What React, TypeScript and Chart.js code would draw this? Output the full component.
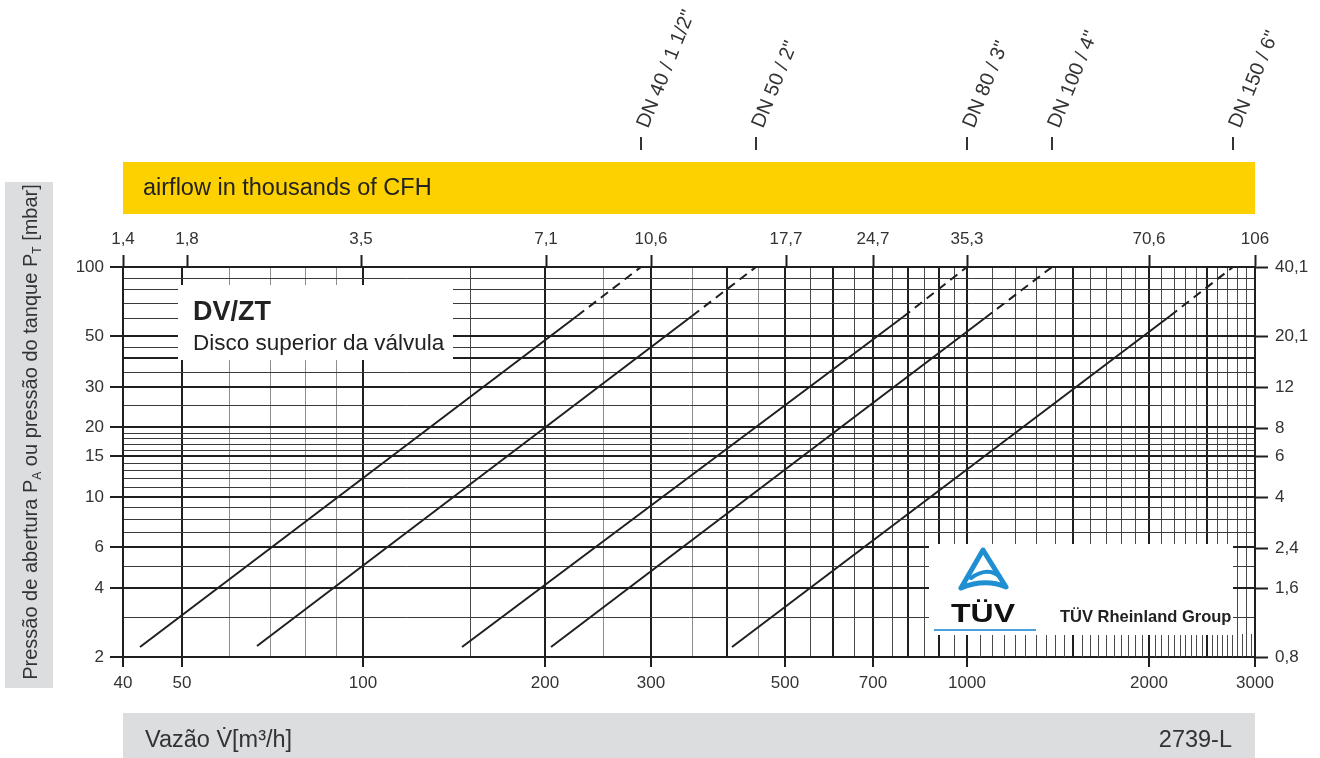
import React, { useEffect, useRef } from 'react';
import { Chart, registerables } from 'chart.js';

Chart.register(...registerables);

const FONT = '"Liberation Sans", Arial, Helvetica, sans-serif';
const TEXT = '#333333';
const DARK = '#1f1f1f';

// axis ranges (m³/h and mbar)
const flowRange = [40, 3000];
const pressureRange = [2, 100];
// unit conversions for the secondary axes
const KCFH_PER_M3H = 0.0353147;
const INWC_PER_MBAR = 0.401463;

// tick labels
const bottomTickValues = [40, 50, 100, 200, 300, 500, 700, 1000, 2000, 3000];
const bottomTickLabels = ['40', '50', '100', '200', '300', '500', '700', '1000', '2000', '3000'];
const leftTickValues = [2, 4, 6, 10, 15, 20, 30, 50, 100];
const leftTickLabels = ['2', '4', '6', '10', '15', '20', '30', '50', '100'];
const topTickValues = [1.4, 1.8, 3.5, 7.1, 10.6, 17.7, 24.7, 35.3, 70.6, 106];
const topTickLabels = ['1,4', '1,8', '3,5', '7,1', '10,6', '17,7', '24,7', '35,3', '70,6', '106'];
const rightTickValues = [40.1, 20.1, 12, 8, 6, 4, 2.4, 1.6, 0.8];
const rightTickLabels = ['40,1', '20,1', '12', '8', '6', '4', '2,4', '1,6', '0,8'];

// grid lines
const gridFlows = [40, 50, 60, 70, 80, 90, 100, 150, 200, 250, 300, 350, 400, 450, 500, 550, 600, 650, 700, 750, 800, 850, 900, 950,
  1000, 1100, 1200, 1300, 1400, 1500, 1600, 1700, 1800, 1900, 2000, 2100, 2200, 2300, 2400, 2500, 2600, 2700, 2800, 2900, 3000];
const majorFlows = [40, 50, 100, 200, 300, 400, 500, 600, 700, 800, 900, 1000, 1500, 2000, 2500, 3000];
const lightFlows = [60, 70, 80, 90, 250, 350, 450];
const stripFlows = [1050, 1150, 1250, 1350, 1450, 1550, 1650, 1750, 1850, 1950, 2050, 2150, 2250, 2350, 2450, 2550, 2650, 2750, 2850, 2950];
const gridPressures = [2, 3, 4, 5, 6, 7, 8, 9, 10, 11, 12, 13, 14, 15, 16, 17, 18, 19, 20, 25, 30, 35, 40, 45, 50, 60, 70, 80, 90, 100];
const majorPressures = [2, 4, 6, 10, 15, 20, 30, 40, 50, 100];

// series: start point, end of solid part, end of dashed part
const seriesLabels = ['DN 40 / 1 1/2"', 'DN 50 / 2"', 'DN 80 / 3"', 'DN 100 / 4"', 'DN 150 / 6"'];
const flowDN40 = [42.7, 226, 289];
const pressureDN40 = [2.22, 61, 100];
const flowDN50 = [66.7, 350, 447];
const pressureDN50 = [2.23, 61, 100];
const flowDN80 = [146, 784, 1000];
const pressureDN80 = [2.22, 60.5, 100];
const flowDN100 = [205, 1071, 1383];
const pressureDN100 = [2.2, 60, 100];
const flowDN150 = [408, 2170, 2759];
const pressureDN150 = [2.2, 61, 100];

const seriesFlows = [flowDN40, flowDN50, flowDN80, flowDN100, flowDN150];
const seriesPressures = [pressureDN40, pressureDN50, pressureDN80, pressureDN100, pressureDN150];

const lookup = (vals: number[], labels: string[], v: number) => {
  const i = vals.findIndex((t) => Math.abs(t - v) < 1e-6);
  return i >= 0 ? labels[i] : '';
};

const clampTicks = (vals: number[], min: number, max: number) =>
  vals.map((v) => ({ value: Math.min(Math.max(v, min), max) }));

const drawTuvLogo = (ctx: CanvasRenderingContext2D) => {
  ctx.save();
  ctx.strokeStyle = '#1f8fd2';
  ctx.lineWidth = 5;
  ctx.lineJoin = 'round';
  ctx.lineCap = 'round';
  ctx.beginPath();
  ctx.moveTo(961, 588);
  ctx.lineTo(983, 550);
  ctx.lineTo(1006, 587);
  ctx.quadraticCurveTo(985, 578, 961, 588);
  ctx.stroke();
  ctx.lineWidth = 4;
  ctx.beginPath();
  ctx.moveTo(971, 578);
  ctx.quadraticCurveTo(988, 566, 1000, 577);
  ctx.stroke();
  ctx.restore();

  ctx.save();
  ctx.fillStyle = '#111';
  ctx.font = `bold 25px ${FONT}`;
  ctx.textBaseline = 'alphabetic';
  ctx.translate(951, 622);
  ctx.scale(1.28, 1);
  ctx.fillText('TÜV', 0, 0);
  ctx.restore();

  ctx.save();
  ctx.strokeStyle = '#4aa0dc';
  ctx.lineWidth = 2;
  ctx.beginPath();
  ctx.moveTo(934, 630);
  ctx.lineTo(1036, 630);
  ctx.stroke();
  ctx.fillStyle = '#222';
  ctx.font = `bold 16.5px ${FONT}`;
  ctx.fillText('TÜV Rheinland Group', 1060, 622);
  ctx.restore();
};

const decorPlugin = {
  id: 'decor',
  beforeDatasetsDraw(chart: any) {
    const { ctx, chartArea } = chart;
    const x = chart.scales.x;
    ctx.save();
    // extra dense grid strip below the logo box
    ctx.strokeStyle = '#4a4a4a';
    ctx.lineWidth = 1;
    for (const f of stripFlows) {
      const px = Math.round(x.getPixelForValue(f)) + 0.5;
      ctx.beginPath();
      ctx.moveTo(px, chartArea.bottom);
      ctx.lineTo(px, 634);
      ctx.stroke();
    }
    // white label boxes
    ctx.fillStyle = '#ffffff';
    ctx.fillRect(178, 285, 275, 75);
    ctx.fillRect(929, 544, 304, 91);
    // DV/ZT text
    ctx.fillStyle = '#222';
    ctx.textBaseline = 'alphabetic';
    ctx.textAlign = 'left';
    ctx.font = `bold 27px ${FONT}`;
    ctx.fillText('DV/ZT', 193, 320);
    ctx.font = `22.5px ${FONT}`;
    ctx.fillText('Disco superior da válvula', 193, 350);
    ctx.restore();
    drawTuvLogo(ctx);
  },
  afterDraw(chart: any) {
    const { ctx } = chart;
    const x = chart.scales.x;
    ctx.save();
    // left title box
    ctx.fillStyle = '#dcdddf';
    ctx.fillRect(5, 182, 48, 506);
    // yellow band
    ctx.fillStyle = '#fdd100';
    ctx.fillRect(123, 162, 1132, 52);
    // bottom band
    ctx.fillStyle = '#dcdddf';
    ctx.fillRect(123, 713, 1132, 45);

    ctx.fillStyle = '#222';
    ctx.textBaseline = 'middle';
    ctx.font = `23.5px ${FONT}`;
    ctx.textAlign = 'left';
    ctx.fillText('airflow in thousands of CFH', 143, 189);

    ctx.fillStyle = TEXT;
    ctx.font = `23.5px ${FONT}`;
    ctx.fillText('Vazão V\u0307[m³/h]', 145, 741);
    ctx.textAlign = 'right';
    ctx.fillText('2739-L', 1232, 741);

    // left rotated title with subscripts
    const pieces = [
      { t: 'Pressão de abertura P', sub: false },
      { t: 'A', sub: true },
      { t: ' ou pressão do tanque P', sub: false },
      { t: 'T', sub: true },
      { t: ' [mbar]', sub: false },
    ];
    const mainFont = `20px ${FONT}`;
    const subFont = `12px ${FONT}`;
    let total = 0;
    for (const p of pieces) {
      ctx.font = p.sub ? subFont : mainFont;
      total += ctx.measureText(p.t).width;
    }
    ctx.translate(30, 432);
    ctx.rotate(-Math.PI / 2);
    ctx.textAlign = 'left';
    ctx.textBaseline = 'alphabetic';
    let cx = -total / 2;
    for (const p of pieces) {
      ctx.font = p.sub ? subFont : mainFont;
      ctx.fillText(p.t, cx, p.sub ? 11 : 7);
      cx += ctx.measureText(p.t).width;
    }
    ctx.restore();

    // DN labels at the top end of each curve
    ctx.save();
    seriesFlows.forEach((fl, i) => {
      const px = x.getPixelForValue(fl[fl.length - 1]);
      ctx.strokeStyle = TEXT;
      ctx.lineWidth = 2;
      ctx.beginPath();
      ctx.moveTo(px, 137);
      ctx.lineTo(px, 150);
      ctx.stroke();
      ctx.save();
      ctx.translate(px + 2, 127);
      ctx.rotate((-68 * Math.PI) / 180);
      ctx.fillStyle = TEXT;
      ctx.font = `20px ${FONT}`;
      ctx.textAlign = 'left';
      ctx.textBaseline = 'middle';
      ctx.fillText(seriesLabels[i], 0, 0);
      ctx.restore();
    });
    ctx.restore();
  },
};

export default function App() {
  const ref = useRef<HTMLCanvasElement | null>(null);
  useEffect(() => {
    if (!ref.current) return;
    const datasets = seriesFlows.map((fl, i) => ({
      label: seriesLabels[i],
      data: fl.map((f, j) => ({ x: f, y: seriesPressures[i][j] })),
      borderColor: DARK,
      borderWidth: 2,
      pointRadius: 0,
      tension: 0,
      fill: false,
      segment: {
        borderDash: (c: any) => (c.p0DataIndex >= 1 ? [9, 6] : undefined),
      },
    }));
    const tickFont = { family: FONT, size: 17 };
    const chart = new Chart(ref.current, {
      type: 'line',
      data: { datasets },
      options: {
        animation: false,
        responsive: false,
        devicePixelRatio: 1,
        layout: { padding: 0 },
        plugins: { legend: { display: false }, tooltip: { enabled: false }, title: { display: false } },
        scales: {
          x: {
            type: 'logarithmic',
            position: 'bottom',
            min: flowRange[0],
            max: flowRange[1],
            alignToPixels: true,
            afterBuildTicks: (s: any) => { s.ticks = gridFlows.map((v) => ({ value: v })); },
            afterFit: (s: any) => { s.height = 101; },
            ticks: {
              autoSkip: false, maxRotation: 0, minRotation: 0, padding: 6, color: TEXT, font: tickFont,
              callback: (v: any) => lookup(bottomTickValues, bottomTickLabels, Number(v)),
            },
            grid: {
              color: (c: any) => majorFlows.includes(c.tick?.value) ? DARK : lightFlows.includes(c.tick?.value) ? '#8e8e8e' : '#4a4a4a',
              lineWidth: (c: any) => majorFlows.includes(c.tick?.value) ? 2 : 1,
              tickLength: 10,
              tickWidth: 2,
              tickColor: (c: any) => bottomTickValues.includes(c.tick?.value) ? DARK : 'rgba(0,0,0,0)',
            },
            border: { display: true, color: DARK, width: 2 },
          },
          x2: {
            type: 'logarithmic',
            position: 'top',
            min: flowRange[0] * KCFH_PER_M3H,
            max: flowRange[1] * KCFH_PER_M3H,
            alignToPixels: true,
            afterBuildTicks: (s: any) => { s.ticks = clampTicks(topTickValues, s.min, s.max); },
            afterFit: (s: any) => { s.height = 267; },
            ticks: {
              autoSkip: false, maxRotation: 0, minRotation: 0, padding: 5, color: TEXT, font: tickFont,
              callback: (_v: any, i: number) => topTickLabels[i] ?? '',
            },
            grid: { drawOnChartArea: false, tickLength: 12, tickWidth: 2, tickColor: DARK },
            border: { display: true, color: DARK, width: 2 },
          },
          y: {
            type: 'logarithmic',
            position: 'left',
            min: pressureRange[0],
            max: pressureRange[1],
            alignToPixels: true,
            afterBuildTicks: (s: any) => { s.ticks = gridPressures.map((v) => ({ value: v })); },
            afterFit: (s: any) => { s.width = 123; },
            ticks: {
              autoSkip: false, padding: 6, color: TEXT, font: tickFont,
              callback: (v: any) => lookup(leftTickValues, leftTickLabels, Number(v)),
            },
            grid: {
              color: (c: any) => majorPressures.includes(c.tick?.value) ? DARK : '#3a3a3a',
              lineWidth: (c: any) => majorPressures.includes(c.tick?.value) ? 2 : 1,
              tickLength: 13,
              tickWidth: 2,
              tickColor: (c: any) => leftTickValues.includes(c.tick?.value) ? DARK : 'rgba(0,0,0,0)',
            },
            border: { display: true, color: DARK, width: 2 },
          },
          y2: {
            type: 'logarithmic',
            position: 'right',
            min: pressureRange[0] * INWC_PER_MBAR,
            max: pressureRange[1] * INWC_PER_MBAR,
            alignToPixels: true,
            afterBuildTicks: (s: any) => { s.ticks = clampTicks(rightTickValues, s.min, s.max); },
            afterFit: (s: any) => { s.width = 65; },
            ticks: {
              autoSkip: false, padding: 7, color: TEXT, font: tickFont,
              callback: (_v: any, i: number) => rightTickLabels[i] ?? '',
            },
            grid: { drawOnChartArea: false, tickLength: 13, tickWidth: 2, tickColor: DARK },
            border: { display: true, color: DARK, width: 2 },
          },
        },
      } as any,
      plugins: [decorPlugin],
    });
    return () => chart.destroy();
  }, []);
  return (
    <div style={{ position: 'absolute', left: 0, top: 0, width: 1320, height: 758, background: '#fff' }}>
      <canvas ref={ref} width={1320} height={758} style={{ display: 'block' }} />
    </div>
  );
}
